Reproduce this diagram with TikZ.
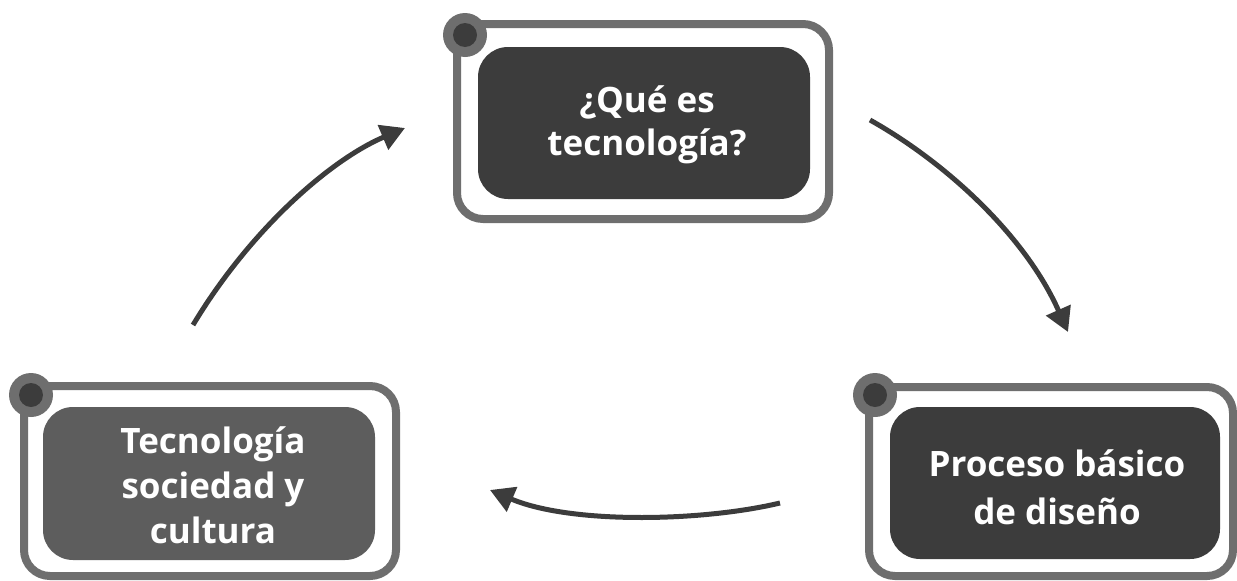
\documentclass[tikz,border=0pt]{standalone}
\usepackage{fontspec}
\setmainfont{Open Sans}
\usetikzlibrary{arrows.meta}
\definecolor{frameg}{HTML}{6E6E6E}
\definecolor{darkg}{HTML}{3C3C3C}
\definecolor{midg}{HTML}{5D5D5D}
\tikzset{
  frame/.style={draw=frameg, line width=8pt, rounded corners=26pt, inner sep=0pt, fill=white},
  card/.style={rounded corners=30pt, inner sep=0pt, text=white, align=center,
    font=\fontsize{35}{44}\selectfont\bfseries},
  conn/.style={draw=darkg, line width=5pt, -{Triangle[length=24pt,width=26pt]}},
  dotout/.style={circle, fill=frameg, minimum size=44pt, inner sep=0pt},
  dotin/.style={circle, fill=darkg, minimum size=24pt, inner sep=0pt},
}
\begin{document}
\begin{tikzpicture}[x=1pt,y=-1pt]
\useasboundingbox (0,0) rectangle (1237,581);
% top
\node[frame, minimum width=372pt, minimum height=195pt] (f1) at (643,121.5) {};
\node[card, fill=darkg, minimum width=332pt, minimum height=152pt] (c1) at (644,123) {};
\node[text=white, align=center, font=\fontsize{35}{43}\selectfont\bfseries] (t1) at (647,125) {¿Qué es\\tecnología?};
\node[dotout] (d1o) at (465,35) {};
\node[dotin] (d1i) at (465,35) {};
% left
\node[frame, minimum width=372pt, minimum height=190pt] (f2) at (210,481) {};
\node[card, fill=midg, minimum width=332pt, minimum height=153pt] (c2) at (209,483.5) {};
\node[text=white, align=center, font=\fontsize{35}{45}\selectfont\bfseries] (t2) at (213,485) {Tecnología\\sociedad y\\cultura};
\node[dotout] (d2o) at (31,395) {};
\node[dotin] (d2i) at (31,395) {};
% right
\node[frame, minimum width=364pt, minimum height=189pt] (f3) at (1051,481.5) {};
\node[card, fill=darkg, minimum width=330pt, minimum height=152pt] (c3) at (1055,483) {};
\node[text=white, align=center, font=\fontsize{35}{48}\selectfont\bfseries] (t3) at (1057,487) {Proceso básico\\de diseño};
\node[dotout] (d3o) at (875,395) {};
\node[dotin] (d3i) at (875,395) {};
% arrows
\coordinate (a1s) at (193,325);
\coordinate (a1e) at (405,128);
\coordinate (a2s) at (870,120);
\coordinate (a2e) at (1068,332);
\coordinate (a3s) at (780,503);
\coordinate (a3e) at (490,490);
\draw[conn] (a1s) .. controls (250,230) and (330,160) .. (a1e);
\draw[conn] (a2s) .. controls (945,162) and (1025,235) .. (a2e);
\draw[conn] (a3s) .. controls (700,522) and (570,524) .. (a3e);
\end{tikzpicture}
\end{document}
